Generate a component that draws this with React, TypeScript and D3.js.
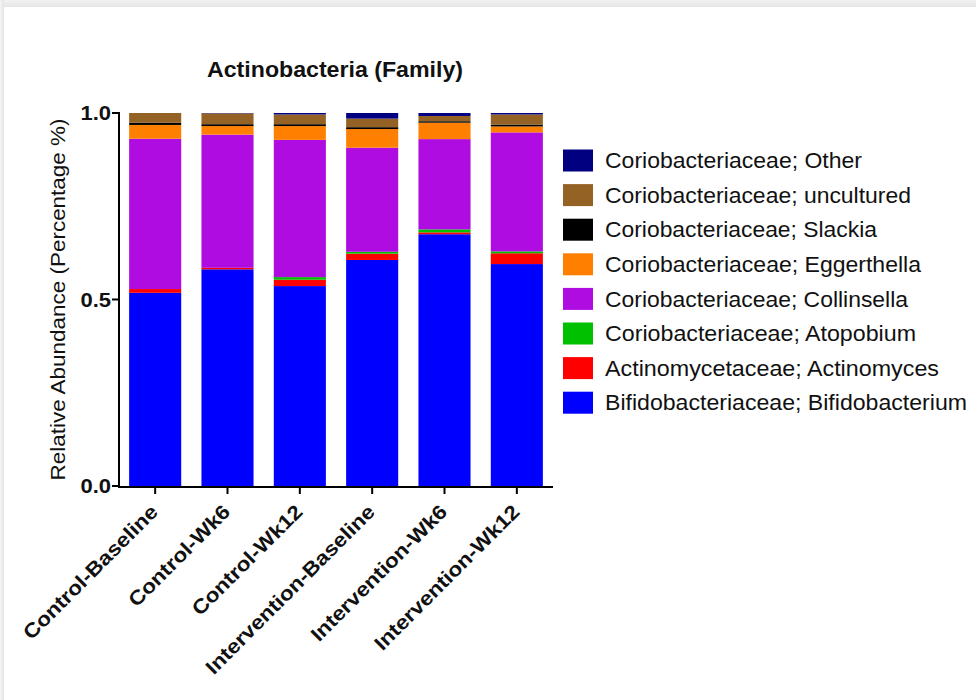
import React from "react";
import * as d3 from "d3";

const groups = [
  "Control-Baseline",
  "Control-Wk6",
  "Control-Wk12",
  "Intervention-Baseline",
  "Intervention-Wk6",
  "Intervention-Wk12",
];

// Stacked from the bottom up
const taxa = [
  "Bifidobacteriaceae; Bifidobacterium",
  "Actinomycetaceae; Actinomyces",
  "Coriobacteriaceae; Atopobium",
  "Coriobacteriaceae; Collinsella",
  "Coriobacteriaceae; Eggerthella",
  "Coriobacteriaceae; Slackia",
  "Coriobacteriaceae; uncultured",
  "Coriobacteriaceae; Other",
];

const bifidobacterium = [0.518, 0.581, 0.536, 0.606, 0.675, 0.595];
const actinomyces = [0.01, 0.004, 0.017, 0.017, 0.005, 0.029];
const atopobium = [0.0, 0.0, 0.007, 0.005, 0.008, 0.005];
const collinsella = [0.403, 0.357, 0.368, 0.279, 0.242, 0.319];
const eggerthella = [0.037, 0.023, 0.037, 0.05, 0.044, 0.016];
const slackia = [0.006, 0.005, 0.005, 0.005, 0.004, 0.005];
const uncultured = [0.026, 0.029, 0.026, 0.023, 0.014, 0.027];
const other = [0.0, 0.001, 0.004, 0.015, 0.008, 0.004];

const seriesValues = [
  bifidobacterium,
  actinomyces,
  atopobium,
  collinsella,
  eggerthella,
  slackia,
  uncultured,
  other,
];

const colors = [
  "#0000FF",
  "#FF0000",
  "#00C000",
  "#AE0CE0",
  "#FF8000",
  "#000000",
  "#956226",
  "#000080",
];

const yTicks = [0, 0.5, 1.0];

const W = 976;
const H = 700;
const AXIS_X = 119;
const AXIS_Y = 486;
const X_END = 553;

// rendered widths of the legend entries, keyed by taxon (top entry first)
const legendTextWidth: Record<string, number> = {
  "Coriobacteriaceae; Other": 257,
  "Coriobacteriaceae; uncultured": 306,
  "Coriobacteriaceae; Slackia": 272,
  "Coriobacteriaceae; Eggerthella": 316,
  "Coriobacteriaceae; Collinsella": 303,
  "Coriobacteriaceae; Atopobium": 311,
  "Actinomycetaceae; Actinomyces": 334,
  "Bifidobacteriaceae; Bifidobacterium": 362,
};

export default function App() {
  const rows = groups.map((g, i) => {
    const r: Record<string, number | string> = { group: g };
    taxa.forEach((t, k) => (r[t] = seriesValues[k][i]));
    return r;
  });
  const stacked = d3.stack<any>().keys(taxa)(rows as any);

  const x = d3
    .scaleBand<string>()
    .domain(groups)
    .range([AXIS_X, X_END])
    .paddingInner(0.28)
    .paddingOuter(0.14);
  const y = d3.scaleLinear().domain([0, 1]).range([AXIS_Y, 113]);

  const font = "'Liberation Sans', Arial, sans-serif";

  return (
    <div style={{ position: "absolute", left: 0, top: 0 }}>
      <svg width={W} height={H} style={{ display: "block" }} fontFamily={font}>
        <defs>
          <linearGradient id="topShade" x1="0" y1="0" x2="0" y2="1">
            <stop offset="0" stopColor="#f2f2f2" />
            <stop offset="1" stopColor="#e6e6e6" />
          </linearGradient>
          <linearGradient id="leftShade" x1="0" y1="0" x2="1" y2="0">
            <stop offset="0" stopColor="#f4f4f4" />
            <stop offset="1" stopColor="#e4e4e4" />
          </linearGradient>
        </defs>
        <rect x={0} y={0} width={W} height={H} fill="#ffffff" />
        <rect x={0} y={0} width={W} height={7} fill="url(#topShade)" />
        <rect x={0} y={0} width={4} height={H} fill="url(#leftShade)" />

        {/* title */}
        <text
          x={335}
          y={77}
          textAnchor="middle"
          fontWeight="bold"
          fontSize={21.5}
          fill="#111"
          textLength={256}
          lengthAdjust="spacingAndGlyphs"
        >
          Actinobacteria (Family)
        </text>

        {/* stacked bars */}
        {stacked.map((layer, k) => (
          <g key={taxa[k]} fill={colors[k]}>
            {layer.map((d, i) => {
              const h = y(d[0]) - y(d[1]);
              if (h <= 0) return null;
              return (
                <rect
                  key={i}
                  x={x(groups[i])!}
                  y={y(d[1])}
                  width={x.bandwidth()}
                  height={h}
                />
              );
            })}
          </g>
        ))}

        {/* y axis */}
        <line x1={AXIS_X} x2={AXIS_X} y1={y(1) - 1} y2={AXIS_Y + 1} stroke="#000" strokeWidth={2} />
        {yTicks.map((t) => (
          <g key={t}>
            <line x1={AXIS_X - 7} x2={AXIS_X} y1={y(t)} y2={y(t)} stroke="#000" strokeWidth={2} />
            <text
              transform={`translate(${AXIS_X - 8},${y(t)}) scale(1.1,1)`}
              dy="0.36em"
              textAnchor="end"
              fontWeight="bold"
              fontSize={20}
              fill="#111"
            >
              {d3.format(".1f")(t)}
            </text>
          </g>
        ))}
        <text
          transform={`translate(65,${(y(0) + y(1)) / 2}) rotate(-90)`}
          textAnchor="middle"
          fontSize={19.5}
          fill="#111"
          textLength={362}
          lengthAdjust="spacingAndGlyphs"
        >
          Relative Abundance (Percentage %)
        </text>

        {/* x axis */}
        <line x1={AXIS_X - 1} x2={X_END} y1={AXIS_Y + 1} y2={AXIS_Y + 1} stroke="#000" strokeWidth={2} />
        {groups.map((g) => {
          const cx = x(g)! + x.bandwidth() / 2;
          return (
            <g key={g}>
              <line x1={cx} x2={cx} y1={AXIS_Y + 1} y2={AXIS_Y + 8} stroke="#000" strokeWidth={2} />
              <text
                transform={`translate(${cx + 4},${AXIS_Y + 27}) rotate(-45) scale(1.13,1)`}
                textAnchor="end"
                fontWeight="bold"
                fontSize={20}
                fill="#111"
              >
                {g}
              </text>
            </g>
          );
        })}

        {/* legend, top entry first */}
        {taxa
          .map((t, k) => ({ t, k }))
          .reverse()
          .map(({ t, k }, j) => {
            const cy = 160.5 + j * 34.6;
            return (
              <g key={t}>
                <rect x={563} y={cy - 11} width={30} height={22} fill={colors[k]} />
                <text
                  x={605}
                  y={cy}
                  dy="0.36em"
                  fontSize={21.5}
                  fill="#111"
                  textLength={legendTextWidth[t]}
                  lengthAdjust="spacingAndGlyphs"
                >
                  {t}
                </text>
              </g>
            );
          })}
      </svg>
    </div>
  );
}
